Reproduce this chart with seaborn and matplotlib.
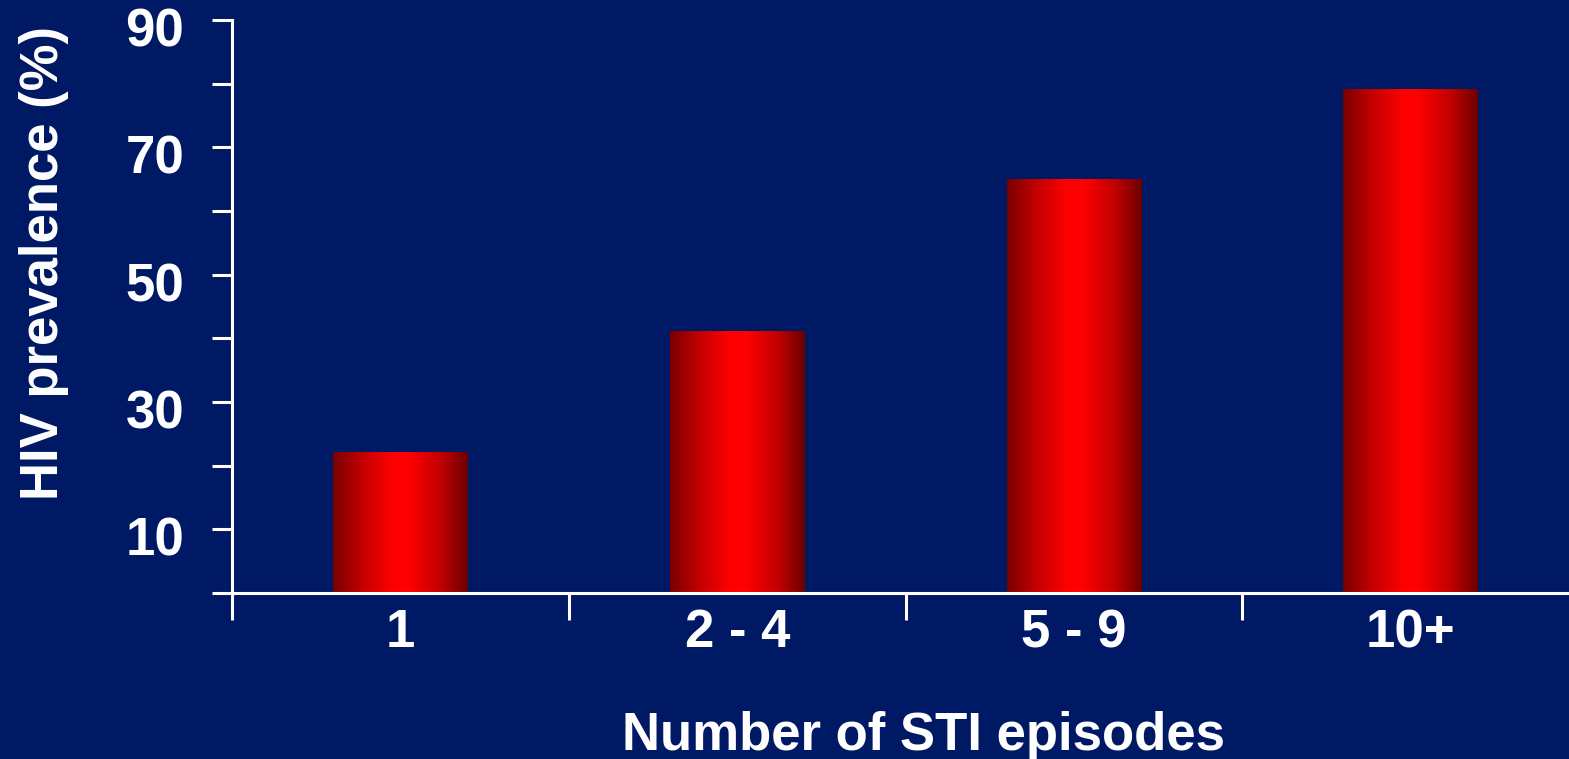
import numpy as np
import pandas as pd
import matplotlib
matplotlib.use('Agg')
import matplotlib.pyplot as plt
from matplotlib.colors import LinearSegmentedColormap
from matplotlib.transforms import ScaledTranslation
import seaborn as sns

sns.set_style("ticks")
plt.rcParams['font.family'] = ['Liberation Sans', 'DejaVu Sans']
plt.rcParams['font.weight'] = 'bold'

# data
episodes = ['1', '2 - 4', '5 - 9', '10+']
hiv_prev = [22, 41, 65, 79]
major_y = [10, 30, 50, 70, 90]
minor_y = [0, 20, 40, 60, 80]

bg = '#001964'
fg = 'white'

df = pd.DataFrame({'episodes': episodes, 'prev': hiv_prev})

fig = plt.figure(figsize=(15.69, 7.59), dpi=100, facecolor=bg)
ax = fig.add_axes([0.1479, 0.2187, 0.8521, 0.755])
ax.set_facecolor(bg)

sns.barplot(data=df, x='episodes', y='prev', width=0.4, ax=ax)

# cylinder-like shading, dark edges and bright centre
cmap = LinearSegmentedColormap.from_list('bar', [
    (0.0, '#7a0000'), (0.22, '#c40000'), (0.45, '#ff0000'),
    (0.56, '#ff0000'), (0.8, '#c20000'), (1.0, '#6c0000')])
grad = np.linspace(0, 1, 256).reshape(1, -1)
for p in ax.patches:
    x0, w, h = p.get_x(), p.get_width(), p.get_height()
    p.set_visible(False)
    ax.imshow(grad, cmap=cmap, aspect='auto', extent=[x0, x0 + w, 0, h],
              zorder=2, interpolation='bicubic')

ax.set_xlim(-0.5, 3.47)
ax.set_ylim(0, 90)

sns.despine(ax=ax)
for s in ['left', 'bottom']:
    ax.spines[s].set_color(fg)
    ax.spines[s].set_linewidth(2.2)

ax.set_yticks(major_y)
ax.set_yticks(minor_y, minor=True)
ax.set_xticks(np.arange(len(episodes)))
ax.set_xticklabels(episodes)
ax.set_xticks(np.arange(len(episodes)) - 0.5, minor=True)

ax.tick_params(axis='y', which='both', length=14.4, width=2.2, color=fg,
               labelcolor=fg, labelsize=38, pad=20)
ax.tick_params(axis='x', which='major', length=0, labelcolor=fg,
               labelsize=38, pad=11)
ax.tick_params(axis='x', which='minor', length=19.4, width=2.2, color=fg)

for lab in ax.get_yticklabels():
    lab.set_fontweight('bold')
    lab.set_transform(lab.get_transform() +
                      ScaledTranslation(0, -0.07, fig.dpi_scale_trans))
for lab in ax.get_xticklabels():
    lab.set_fontweight('bold')

ax.set_xlabel('Number of STI episodes', color=fg, fontsize=38,
              fontweight='bold')
ax.xaxis.set_label_coords(0.517, -0.274)
ax.xaxis.label.set_verticalalignment('baseline')

ax.set_ylabel('HIV prevalence (%)', color=fg, fontsize=38, fontweight='bold')
ax.yaxis.set_label_coords(-0.122, 0.576)

fig.savefig('out.png', dpi=100, facecolor=bg)
